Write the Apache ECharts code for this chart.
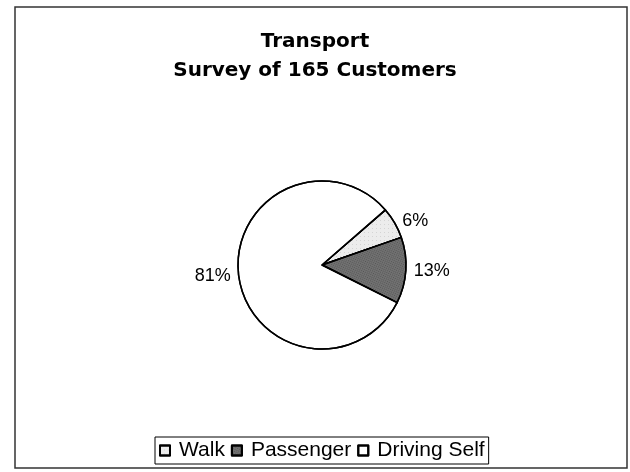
<!DOCTYPE html>
<html>
<head>
<meta charset="utf-8">
<script src="https://cdn.jsdelivr.net/npm/echarts@6/dist/echarts.min.js"></script>
<style>
  html, body { margin: 0; padding: 0; background: #fff; }
  #main { width: 630px; height: 472px; }
</style>
</head>
<body>
<div id="main"></div>
<script>
const categories = ['Walk', 'Passenger', 'Driving Self']
const customers = [10, 21, 134]
const sliceColors = ['#ececec', '#727272', '#ffffff']

const chart = echarts.init(document.getElementById('main'))

const total = customers.reduce((a, b) => a + b, 0)

const option = {
  backgroundColor: '#fff',
  textStyle: { fontFamily: 'Liberation Sans, Arial, sans-serif' },
  title: {
    text: 'Transport\nSurvey of 165 Customers',
    left: 'center',
    top: 22,
    textStyle: {
      fontSize: 20,
      fontWeight: 'bold',
      color: '#000',
      lineHeight: 29,
      fontFamily: 'DejaVu Sans, sans-serif'
    }
  },
  graphic: [
    {
      type: 'rect',
      shape: { x: 15, y: 7, width: 612, height: 461 },
      style: { fill: 'none', stroke: '#333', lineWidth: 1.5 },
      silent: true
    }
  ],
  legend: {
    data: categories,
    top: 437,
    left: 155,
    icon: 'rect',
    itemWidth: 10,
    itemHeight: 10,
    itemGap: 6,
    padding: [3, 4, 3, 4],
    borderColor: '#000',
    borderWidth: 1,
    textStyle: { color: '#000', fontSize: 21, padding: [0, 0, 0, 4] }
  },
  series: [
    {
      type: 'pie',
      center: [322, 265],
      radius: 84,
      startAngle: 41,
      clockwise: true,
      avoidLabelOverlap: false,
      animation: false,
      data: categories.map((name, i) => ({
        name,
        value: customers[i],
        itemStyle: {
          color: sliceColors[i],
          decal: i === 0
            ? { symbol: 'rect', symbolSize: 0.4, color: '#777', dashArrayX: [1, 3], dashArrayY: [1, 3], rotation: 0 }
            : i === 1
              ? { symbol: 'rect', symbolSize: 0.6, color: '#111', dashArrayX: [1, 1], dashArrayY: [1, 1], rotation: 0.4 }
              : { symbol: 'none' }
        }
      })),
      itemStyle: { borderColor: '#000', borderWidth: 1.5 },
      label: {
        show: true,
        position: 'outside',
        color: '#000',
        fontSize: 18,
        formatter: p => Math.round(p.value / total * 100) + '%'
      },
      labelLine: { show: false, length: 3, length2: 0 },
      emphasis: { disabled: true }
    }
  ]
}

chart.setOption(option)
</script>
</body>
</html>
